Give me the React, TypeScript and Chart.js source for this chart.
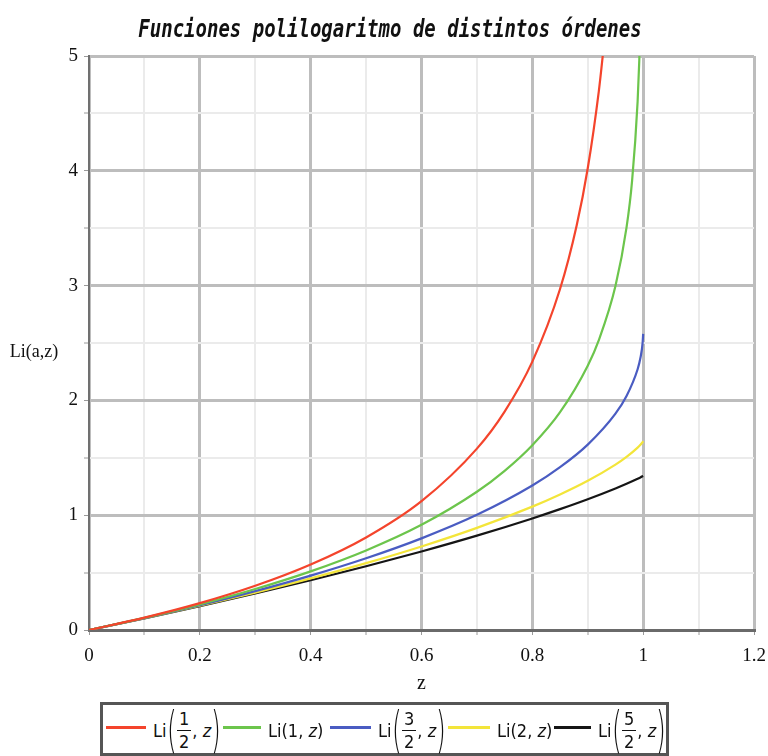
import React, { useEffect, useRef } from "react";
import { Chart, registerables } from "chart.js";

Chart.register(...registerables);

// ---- data ----
const zHalf = [0, 0.1, 0.2, 0.3, 0.4, 0.5, 0.6, 0.7, 0.75, 0.8, 0.85, 0.88, 0.9, 0.92, 0.93];
const liHalf = [0, 0.1077, 0.2338, 0.3848, 0.5701, 0.806, 1.1223, 1.5801, 1.903, 2.3377, 2.97, 3.523, 4.022, 4.695, 5.134];

const zOne = [0, 0.1, 0.2, 0.3, 0.4, 0.5, 0.6, 0.7, 0.75, 0.8, 0.85, 0.9, 0.92, 0.95, 0.97, 0.98, 0.99, 0.993, 0.995];
const liOne = [0, 0.1054, 0.2231, 0.3567, 0.5108, 0.6931, 0.9163, 1.204, 1.3863, 1.6094, 1.8971, 2.3026, 2.5257, 2.9957, 3.5066, 3.912, 4.6052, 4.9618, 5.2983];

const zGrid = [0, 0.1, 0.2, 0.3, 0.4, 0.5, 0.6, 0.7, 0.8, 0.85, 0.9, 0.95, 0.97, 0.99, 0.995, 0.999, 1];
const liThreeHalves = [0, 0.1037, 0.2159, 0.3383, 0.4734, 0.6248, 0.7983, 1.0031, 1.2582, 1.4179, 1.6145, 1.8842, 2.0381, 2.2717, 2.3687, 2.5017, 2.58];
const liTwo = [0, 0.1026, 0.211, 0.3261, 0.4493, 0.5822, 0.7276, 0.8894, 1.0748, 1.1806, 1.2997, 1.4406, 1.5079, 1.5886, 1.6134, 1.637, 1.6449];
const liFiveHalves = [0, 0.1018, 0.2076, 0.318, 0.4334, 0.555, 0.6839, 0.8218, 0.9717, 1.0526, 1.139, 1.233, 1.2738, 1.3175, 1.3292, 1.339, 1.3415];

const seriesColors = ["#f4442c", "#6cc54c", "#4a5cc2", "#f3e53a", "#151515"];
const titleText = "Funciones polilogaritmo de distintos órdenes";
const xTitle = "z";
const yTitle = "Li(a,z)";

const MAJOR = "#bdbdbd";
const MINOR = "#ebebeb";

const textPlugin = {
  id: "extraTexts",
  afterDraw(chart: any) {
    const ctx = chart.ctx;
    ctx.save();
    ctx.font = "18px 'Liberation Serif'";
    ctx.fillStyle = "#111";
    ctx.textAlign = "center";
    ctx.textBaseline = "middle";
    ctx.fillText(yTitle, 34, 352);
    ctx.restore();

    ctx.save();
    ctx.font = "italic bold 19px 'DejaVu Sans Mono'";
    ctx.fillStyle = "#111";
    ctx.textAlign = "center";
    ctx.textBaseline = "alphabetic";
    ctx.translate(390, 37);
    ctx.scale(1, 1.3);
    ctx.fillText(titleText, 0, 0);
    ctx.restore();
  },
};

const serifTick = { family: "'Liberation Serif'", size: 19 };

function Fraction({ num, den }: { num: string; den: string }) {
  return (
    <span
      style={{
        display: "inline-flex",
        flexDirection: "column",
        alignItems: "center",
        fontSize: 18,
        lineHeight: 1,
        margin: "0 2px",
        verticalAlign: "middle",
      }}
    >
      <span style={{ padding: "0 1px 2px" }}>{num}</span>
      <span style={{ borderTop: "1.5px solid #111", padding: "2px 1px 0", width: "100%", textAlign: "center" }}>{den}</span>
    </span>
  );
}

function BigParen({ ch }: { ch: string }) {
  return (
    <span
      style={{
        display: "inline-block",
        fontSize: 50,
        lineHeight: "50px",
        fontWeight: 200,
        transform: "scaleX(0.5)",
        margin: "0 -5px",
        verticalAlign: "middle",
      }}
    >
      {ch}
    </span>
  );
}

function LegendLabel({ num, den, plain }: { num?: string; den?: string; plain?: string }) {
  if (plain) {
    return (
      <span>
        Li({plain}, <i>z</i>)
      </span>
    );
  }
  return (
    <span style={{ display: "inline-flex", alignItems: "center" }}>
      <span>Li</span>
      <BigParen ch="(" />
      <Fraction num={num as string} den={den as string} />
      <span>
        , <i>z</i>
      </span>
      <BigParen ch=")" />
    </span>
  );
}

export default function App() {
  const ref = useRef<HTMLCanvasElement>(null);

  useEffect(() => {
    const pts = (xs: number[], ys: number[]) => xs.map((x, i) => ({ x, y: ys[i] }));
    const mk = (label: string, xs: number[], ys: number[], color: string) => ({
      label,
      data: pts(xs, ys),
      borderColor: color,
      backgroundColor: color,
      borderWidth: 2.2,
      pointRadius: 0,
      fill: false,
      cubicInterpolationMode: "monotone" as const,
    });

    const chart = new Chart(ref.current as HTMLCanvasElement, {
      type: "line",
      data: {
        datasets: [
          mk("Li(1/2, z)", zHalf, liHalf, seriesColors[0]),
          mk("Li(1, z)", zOne, liOne, seriesColors[1]),
          mk("Li(3/2, z)", zGrid, liThreeHalves, seriesColors[2]),
          mk("Li(2, z)", zGrid, liTwo, seriesColors[3]),
          mk("Li(5/2, z)", zGrid, liFiveHalves, seriesColors[4]),
        ],
      },
      options: {
        responsive: false,
        animation: false,
        devicePixelRatio: 1,
        layout: { padding: { left: 0, right: 14, top: 56, bottom: 56 } },
        plugins: {
          legend: { display: false },
          tooltip: { enabled: false },
          title: { display: false },
        },
        scales: {
          x: {
            type: "linear",
            min: 0,
            max: 1.2,
            ticks: {
              stepSize: 0.1,
              autoSkip: false,
              maxRotation: 0,
              color: "#111",
              font: serifTick,
              padding: 10,
              callback: (value: any) => {
                const v = Math.round(Number(value) * 10);
                return v % 2 === 0 ? String(v / 10) : "";
              },
            },
            grid: {
              color: (c: any) => (Math.round(c.tick.value * 10) % 2 === 0 ? MAJOR : MINOR),
              lineWidth: (c: any) => (Math.round(c.tick.value * 10) % 2 === 0 ? 3 : 2),
              tickLength: 5,
              tickColor: "#9a9a9a",
              tickWidth: 1,
            },
            border: { color: "#6a6a6a", width: 3 },
            title: {
              display: true,
              text: xTitle,
              color: "#111",
              font: { family: "'Liberation Serif'", size: 20 },
              padding: { top: 0, bottom: 4 },
            },
            afterFit: (s: any) => {
              s.height = 70;
              s.paddingRight = 0;
              s.paddingLeft = 0;
            },
          },
          y: {
            type: "linear",
            min: 0,
            max: 5,
            ticks: {
              stepSize: 0.5,
              autoSkip: false,
              color: "#111",
              font: serifTick,
              padding: 6,
              callback: (value: any) => {
                const v = Math.round(Number(value) * 2);
                return v % 2 === 0 ? String(v / 2) : "";
              },
            },
            grid: {
              color: (c: any) => (Math.round(c.tick.value * 2) % 2 === 0 ? MAJOR : MINOR),
              lineWidth: (c: any) => (Math.round(c.tick.value * 2) % 2 === 0 ? 3 : 2),
              tickLength: 5,
              tickColor: "#9a9a9a",
              tickWidth: 1,
            },
            border: { color: "#707070", width: 2 },
            afterFit: (s: any) => {
              s.width = 89;
            },
          },
        },
      } as any,
      plugins: [textPlugin],
    });
    return () => chart.destroy();
  }, []);

  const legendItems = [
    { line: 106, text: 153, num: "1", den: "2" },
    { line: 223, text: 268, plain: "1" },
    { line: 330, text: 378, num: "3", den: "2" },
    { line: 448, text: 497, plain: "2" },
    { line: 554, text: 598, num: "5", den: "2" },
  ];

  return (
    <div
      style={{
        position: "fixed",
        left: 0,
        top: 0,
        width: 768,
        height: 756,
        overflow: "hidden",
        background: "#fff",
      }}
    >
      <canvas ref={ref} width={768} height={756} style={{ display: "block" }} />
      <div
        style={{
          position: "absolute",
          left: 100,
          top: 702,
          width: 569,
          height: 54,
          border: "3px solid #555",
          boxSizing: "border-box",
          background: "#fff",
        }}
      />
      {legendItems.map((it, i) => (
        <React.Fragment key={i}>
          <div
            style={{
              position: "absolute",
              left: it.line,
              top: 726,
              width: it.text - it.line - 7,
              height: 3,
              background: seriesColors[i],
            }}
          />
          <div
            style={{
              position: "absolute",
              left: it.text,
              top: 704,
              height: 52,
              display: "flex",
              alignItems: "center",
              fontFamily: "'DejaVu Sans'",
              fontStretch: "condensed",
              fontSize: 18,
              color: "#111",
              whiteSpace: "nowrap",
            }}
          >
            <LegendLabel num={it.num} den={it.den} plain={it.plain} />
          </div>
        </React.Fragment>
      ))}
    </div>
  );
}
